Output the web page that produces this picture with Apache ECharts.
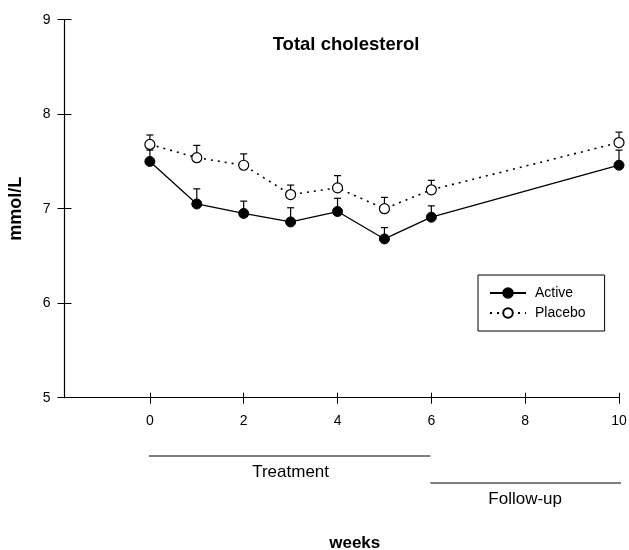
<!DOCTYPE html>
<html>
<head>
<meta charset="utf-8">
<script src="https://cdn.jsdelivr.net/npm/echarts@6/dist/echarts.min.js"></script>
<style>
html, body { margin: 0; padding: 0; background: #fff; }
#main { width: 629px; height: 550px; }
</style>
</head>
<body>
<div id="main"></div>
<script>
// data (mmol/L, mean and upper error bar)
var weeks = [0, 1, 2, 3, 4, 5, 6, 10];
var active = [7.50, 7.05, 6.95, 6.86, 6.97, 6.68, 6.91, 7.46];
var activeUpper = [7.62, 7.21, 7.08, 7.01, 7.11, 6.80, 7.03, 7.62];
var placebo = [7.68, 7.54, 7.46, 7.15, 7.22, 7.00, 7.20, 7.70];
var placeboUpper = [7.78, 7.67, 7.58, 7.25, 7.35, 7.12, 7.30, 7.81];
var xTicks = [0, 2, 4, 6, 8, 10];
var phases = [
    {name: 'Treatment', from: 0, to: 6},
    {name: 'Follow-up', from: 6, to: 10}
];

var font = "'Liberation Sans', Arial, sans-serif";

function pairs(v) {
    return weeks.map(function (w, i) { return [w, v[i]]; });
}
function bars(v, up) {
    return weeks.map(function (w, i) { return [w, v[i], up[i]]; });
}

// upper error bar: stem + cap
function renderBar(params, api) {
    var p0 = api.coord([api.value(0), api.value(1)]);
    var p1 = api.coord([api.value(0), api.value(2)]);
    var s = {stroke: '#000', lineWidth: 1.2};
    return {
        type: 'group',
        children: [
            {type: 'line', shape: {x1: p0[0], y1: p0[1], x2: p1[0], y2: p1[1]}, style: s},
            {type: 'line', shape: {x1: p1[0] - 3.5, y1: p1[1], x2: p1[0] + 3.5, y2: p1[1]}, style: s}
        ]
    };
}

var myChart = echarts.init(document.getElementById('main'));

option = {
    backgroundColor: '#fff',
    animation: false,
    textStyle: {fontFamily: font},
    title: {
        text: 'Total cholesterol',
        left: 341,
        top: 30,
        textAlign: 'center',
        textStyle: {fontFamily: font, fontSize: 18.5, fontWeight: 'bold', color: '#000'}
    },
    legend: {
        orient: 'vertical',
        left: 478,
        top: 275,
        padding: [11, 19, 11, 11],
        itemWidth: 36,
        itemHeight: 12,
        itemGap: 6,
        borderColor: '#000',
        borderWidth: 1,
        data: ['Active', 'Placebo'],
        textStyle: {fontFamily: font, fontSize: 14, color: '#000', padding: [0, 0, 0, 4]}
    },
    grid: {left: 64.5, right: 10, top: 19.7, bottom: 152.3, containLabel: false, outerBoundsMode: 'none'},
    xAxis: [{
        type: 'value',
        min: -1.82,
        max: 10,
        name: 'weeks',
        nameLocation: 'middle',
        nameGap: 137,
        nameTextStyle: {fontFamily: font, fontSize: 17, fontWeight: 'bold', color: '#000', padding: [0, 0, 0, 26]},
        axisLine: {onZero: false, lineStyle: {color: '#000', width: 1.2}},
        splitLine: {show: false},
        axisTick: {show: true, length: 6, customValues: xTicks, lineStyle: {color: '#000'}},
        axisLabel: {customValues: xTicks, margin: 16, fontFamily: font, fontSize: 14, color: '#000'}
    }, {
        type: 'value',
        position: 'bottom',
        min: -1.82,
        max: 10,
        axisLine: {show: false, onZero: false},
        splitLine: {show: false},
        axisTick: {show: true, inside: true, length: 5, customValues: xTicks, lineStyle: {color: '#000'}},
        axisLabel: {show: false}
    }],
    yAxis: [{
        type: 'value',
        min: 5,
        max: 9,
        interval: 1,
        name: 'mmol/L',
        nameLocation: 'middle',
        nameGap: 39,
        nameTextStyle: {fontFamily: font, fontSize: 18, fontWeight: 'bold', color: '#000'},
        axisLine: {show: true, onZero: false, lineStyle: {color: '#000', width: 1.2}},
        splitLine: {show: false},
        axisTick: {show: true, length: 7, lineStyle: {color: '#000'}},
        axisLabel: {margin: 14, fontFamily: font, fontSize: 14, color: '#000'}
    }, {
        type: 'value',
        position: 'left',
        min: 5,
        max: 9,
        interval: 1,
        axisLine: {show: false, onZero: false},
        splitLine: {show: false},
        axisTick: {show: true, inside: true, length: 7, lineStyle: {color: '#000'}},
        axisLabel: {show: false}
    }],
    series: [
        {
            type: 'custom',
            name: 'activeErr',
            renderItem: renderBar,
            data: bars(active, activeUpper),
            z: 1,
            silent: true
        },
        {
            type: 'custom',
            name: 'placeboErr',
            renderItem: renderBar,
            data: bars(placebo, placeboUpper),
            z: 1,
            silent: true
        },
        {
            name: 'Placebo',
            type: 'line',
            data: pairs(placebo),
            symbol: 'circle',
            symbolSize: 10,
            z: 3,
            lineStyle: {color: '#000', width: 1.6, type: [2, 5]},
            itemStyle: {color: '#fff', borderColor: '#000', borderWidth: 1.2}
        },
        {
            name: 'Active',
            type: 'line',
            data: pairs(active),
            symbol: 'circle',
            symbolSize: 10,
            z: 4,
            lineStyle: {color: '#000', width: 1.3},
            itemStyle: {color: '#000', borderColor: '#000', borderWidth: 1}
        }
    ]
};

myChart.setOption(option);

// phase bars under the x axis (positions from the axis scale)
var g = [];
phases.forEach(function (ph, i) {
    var x1 = myChart.convertToPixel({xAxisIndex: 0}, ph.from);
    var x2 = myChart.convertToPixel({xAxisIndex: 0}, ph.to);
    var y = i === 0 ? 456 : 483;
    g.push({
        type: 'line',
        shape: {x1: x1 - 1, y1: y, x2: x2 + (i === 0 ? -1 : 2), y2: y},
        style: {stroke: '#000', lineWidth: 1}
    });
    g.push({
        type: 'text',
        x: (x1 + x2) / 2,
        y: y + 16,
        style: {
            text: ph.name,
            fontFamily: font,
            fontSize: 17,
            fill: '#000',
            align: 'center',
            verticalAlign: 'middle'
        }
    });
});
myChart.setOption({graphic: g});
</script>
</body>
</html>
